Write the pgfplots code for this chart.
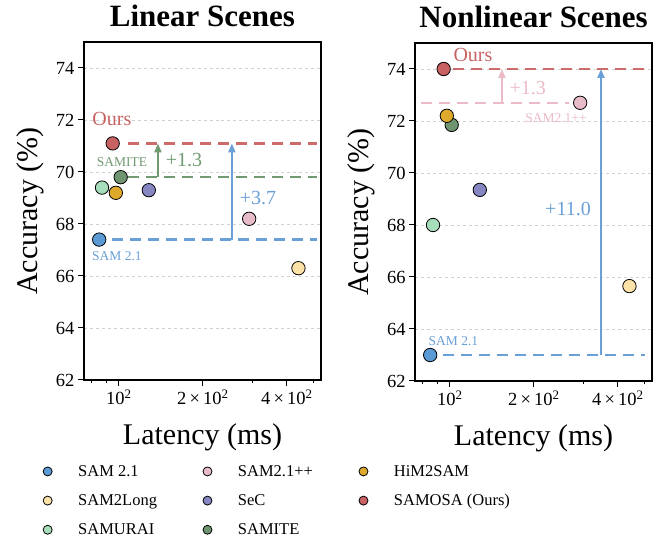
\documentclass[border=0pt]{standalone}
\usepackage{fontspec}
\setmainfont{Liberation Serif}
\usepackage{pgfplots}
\pgfplotsset{compat=1.18}
\usetikzlibrary{arrows.meta}
\definecolor{cSAM}{HTML}{5B9BD5}
\definecolor{cLong}{HTML}{FDE2A8}
\definecolor{cURAI}{HTML}{A6DDBB}
\definecolor{cPP}{HTML}{E8BBC8}
\definecolor{cSeC}{HTML}{8686C2}
\definecolor{cITE}{HTML}{6E9470}
\definecolor{cHiM}{HTML}{DFAA2C}
\definecolor{cOurs}{HTML}{C86262}
\definecolor{lRed}{HTML}{CD6A6A}
\definecolor{lGreen}{HTML}{729A72}
\definecolor{lBlue}{HTML}{6A9FD8}
\definecolor{lPink}{HTML}{EBBCC7}
\pgfplotsset{
 panel/.style={
  scale only axis, width=237bp, height=338bp,
  xmin=75, xmax=530, ymin=62, ymax=75,
  ytick={62,64,...,74},
  xtick={100,200,400},
  xticklabels={10\textsuperscript{2}, 2\,×\,10\textsuperscript{2}, 4\,×\,10\textsuperscript{2}},
  minor xtick={80,90,300,500},
  tick pos=left, tick align=outside,
  major tick length=6bp, minor tick length=3.5bp,
  every tick/.style={black, line width=1bp},
  axis line style={line width=2.6bp},
  ymajorgrids, grid style={dashed, gray!35, line width=0.7bp},
  tick label style={font=\fontsize{18.5bp}{21bp}\selectfont},
  /pgf/number format/assume math mode=true,
  label style={font=\fontsize{30bp}{36bp}\selectfont},
  xlabel={Latency (ms)}, ylabel={Accuracy (\%)},
  xlabel style={at={(axis description cs:0.5,-0.17)}, anchor=center},
  ylabel style={at={(axis description cs:-0.227,0.5)}, anchor=center},
  title style={font=\bfseries\fontsize{31bp}{36bp}\selectfont, at={(axis description cs:0.5,1)}, anchor=base, yshift=10bp},
 },
 pt/.style={only marks, mark=*, mark size=6.7bp, mark options={draw=black, line width=0.8bp, fill=#1}},
 lg/.style={only marks, mark=*, mark size=4.5bp, mark options={draw=black, line width=0.8bp, fill=#1}},
 dl/.style={#1, line width=2.4bp, dash pattern=on 11bp off 7bp},
 ar/.style={#1, line width=2bp, -{Triangle[length=9bp,width=7bp]}},
}
\newcommand{\ann}{\fontsize{20bp}{24bp}\selectfont}
\newcommand{\sml}{\fontsize{13.5bp}{16bp}\selectfont}
\begin{document}
\begin{tikzpicture}
\useasboundingbox (0,0) rectangle (672bp,544bp);
% ---------------- Linear Scenes ----------------
\begin{semilogxaxis}[panel, at={(84bp,164bp)}, anchor=south west, title={Linear Scenes}]
\addplot[dl=lRed] coordinates {(108,71.1) (512,71.1)};
\addplot[dl=lGreen] coordinates {(108,69.8) (512,69.8)};
\addplot[dl=lBlue] coordinates {(94.4,67.4) (512,67.4)};
\addplot[ar=lGreen] coordinates {(138,69.8) (138,71.1)};
\addplot[ar=lBlue] coordinates {(254,67.4) (254,71.1)};
\addplot[pt=cSAM] coordinates {(85,67.4)};
\addplot[pt=cLong] coordinates {(440,66.3)};
\addplot[pt=cPP] coordinates {(293,68.2)};
\addplot[pt=cSeC] coordinates {(128,69.3)};
\addplot[pt=cURAI] coordinates {(87,69.4)};
\addplot[pt=cITE] coordinates {(101.5,69.8)};
\addplot[pt=cHiM] coordinates {(97.5,69.2)};
\addplot[pt=cOurs] coordinates {(95,71.1)};
\node[text=cOurs, font=\ann] at (axis cs:94.4,72.04) {Ours};
\node[text=lGreen, font=\sml] at (axis cs:102.5,70.38) {SAMITE};
\node[text=lGreen, font=\ann, anchor=west] at (axis cs:143,70.46) {+1.3};
\node[text=lBlue, font=\ann] at (axis cs:315,69.0) {+3.7};
\node[text=lBlue, font=\sml] at (axis cs:98.4,66.77) {SAM 2.1};
\end{semilogxaxis}
% ---------------- Nonlinear Scenes ----------------
\begin{semilogxaxis}[panel, at={(415bp,163bp)}, anchor=south west, title={Nonlinear Scenes}]
\addplot[dl=lRed] coordinates {(103,74.0) (500,74.0)};
\addplot[dl=lPink] coordinates {(78.7,72.7) (267,72.7)};
\addplot[dl=lBlue] coordinates {(94.4,63.0) (500,63.0)};
\addplot[ar=lPink] coordinates {(153.6,72.7) (153.6,74.0)};
\addplot[ar=lBlue] coordinates {(348,63.0) (348,74.0)};
\addplot[pt=cSAM] coordinates {(85,63.0)};
\addplot[pt=cLong] coordinates {(440,65.65)};
\addplot[pt=cPP] coordinates {(293,72.7)};
\addplot[pt=cSeC] coordinates {(128,69.35)};
\addplot[pt=cURAI] coordinates {(87,68.0)};
\addplot[pt=cITE] coordinates {(101.5,71.85)};
\addplot[pt=cHiM] coordinates {(97.5,72.2)};
\addplot[pt=cOurs] coordinates {(95,74.0)};
\node[text=cOurs, font=\ann] at (axis cs:121,74.54) {Ours};
\node[text=lPink, font=\ann] at (axis cs:190,73.27) {+1.3};
\node[text=lPink, font=\sml] at (axis cs:240,72.12) {SAM2.1++};
\node[text=lBlue, font=\ann] at (axis cs:265,68.6) {+11.0};
\node[text=lBlue, font=\sml] at (axis cs:103,63.54) {SAM 2.1};
\end{semilogxaxis}
% ---------------- Legend ----------------
\begin{axis}[at={(0,0)}, anchor=south west, scale only axis, width=672bp, height=544bp,
  hide axis, xmin=0, xmax=1, ymin=0, ymax=1,
  legend columns=3, legend cell align=left,
  legend image code/.code={\draw[#1] plot coordinates {(0bp,0bp)};},
  legend style={at={(0.0595,0.1525)}, anchor=north west, draw=none, fill=none,
    font=\fontsize{16.5bp}{19bp}\selectfont, row sep=12.5bp,
    /tikz/every odd column/.append style={column sep=24bp},
    /tikz/every even column/.append style={column sep=44bp},
    /tikz/column 2/.append style={column sep=49bp},
    /tikz/column 4/.append style={column sep=37bp}}]
\addlegendimage{lg=cSAM}\addlegendentry{SAM 2.1}
\addlegendimage{lg=cPP}\addlegendentry{SAM2.1++}
\addlegendimage{lg=cHiM}\addlegendentry{HiM2SAM}
\addlegendimage{lg=cLong}\addlegendentry{SAM2Long}
\addlegendimage{lg=cSeC}\addlegendentry{SeC}
\addlegendimage{lg=cOurs}\addlegendentry{SAMOSA (Ours)}
\addlegendimage{lg=cURAI}\addlegendentry{SAMURAI}
\addlegendimage{lg=cITE}\addlegendentry{SAMITE}
\end{axis}
\end{tikzpicture}
\end{document}
